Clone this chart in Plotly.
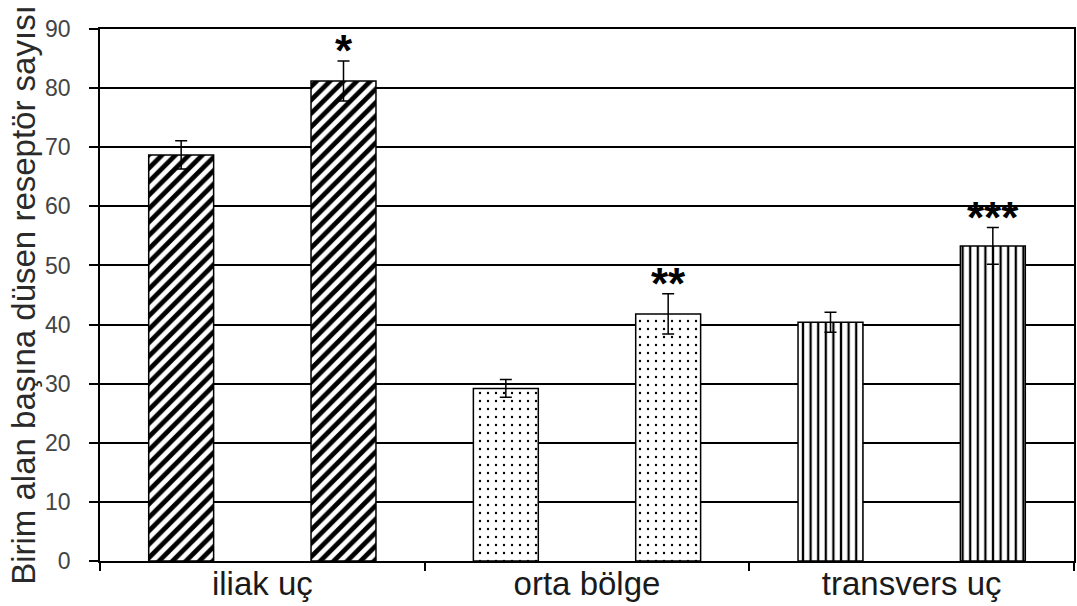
import plotly.graph_objects as go

# Receptor counts per unit area, two bars per region (mean ± error)
categories = ["iliak uç", "orta bölge", "transvers uç"]
first_values = [68.7, 29.2, 40.4]
first_errors = [2.4, 1.5, 1.7]
second_values = [81.2, 41.8, 53.3]
second_errors = [3.4, 3.4, 3.1]
significance = ["*", "**", "***"]

# fill pattern per region
shapes = ["/", ".", "|"]
sizes = [9.5, 8, 7.6]
solidities = [0.5, 0.07, 0.3]

FONT = "Liberation Sans, Arial, sans-serif"

fig = go.Figure()

for vals, errs in [(first_values, first_errors), (second_values, second_errors)]:
    fig.add_trace(go.Bar(
        x=categories,
        y=vals,
        marker=dict(
            color="white",
            line=dict(color="black", width=1.5),
            pattern=dict(
                shape=shapes,
                size=sizes,
                solidity=solidities,
                fgcolor="black",
                fgopacity=1,
                bgcolor="white",
                fillmode="overlay",
            ),
        ),
        error_y=dict(type="data", array=errs, visible=True,
                     color="black", thickness=1.5, width=6),
        showlegend=False,
    ))

# significance marks above the second bar of each region
for i, (val, err, mark) in enumerate(zip(second_values, second_errors, significance)):
    fig.add_annotation(
        x=i + 0.25, y=val + err,
        xref="x", yref="y",
        text=f"<b>{mark}</b>", showarrow=False,
        yanchor="bottom", yshift=-16,
        font=dict(family=FONT, size=44, color="black"),
    )

fig.update_layout(
    width=1077, height=606,
    margin=dict(l=100, r=3, t=29, b=45, autoexpand=False),
    paper_bgcolor="white",
    plot_bgcolor="white",
    barmode="group",
    bargap=0.0,
    bargroupgap=0.6,
    font=dict(family=FONT),
)

fig.update_xaxes(
    type="category",
    automargin=False,
    tickson="boundaries",
    ticks="outside", ticklen=8, tickwidth=1.5, tickcolor="black",
    ticklabelstandoff=-7,
    showline=True, linecolor="black", linewidth=1.5, mirror=True,
    showgrid=False,
    tickfont=dict(family=FONT, size=33, color="#1a1a1a"),
)

fig.update_yaxes(
    range=[0, 90],
    dtick=10,
    automargin=False,
    ticks="outside", ticklen=9, tickwidth=1.5, tickcolor="black",
    ticklabelstandoff=14,
    showline=True, linecolor="black", linewidth=1.5, mirror=True,
    showgrid=True, gridcolor="black", gridwidth=1.5,
    zeroline=False,
    tickfont=dict(family=FONT, size=23, color="#444444"),
    title=dict(text="Birim alan başına düsen reseptör sayısı",
               font=dict(family=FONT, size=33, color="#2a2a2a"),
               standoff=0),
)

fig.write_html("out.html")
